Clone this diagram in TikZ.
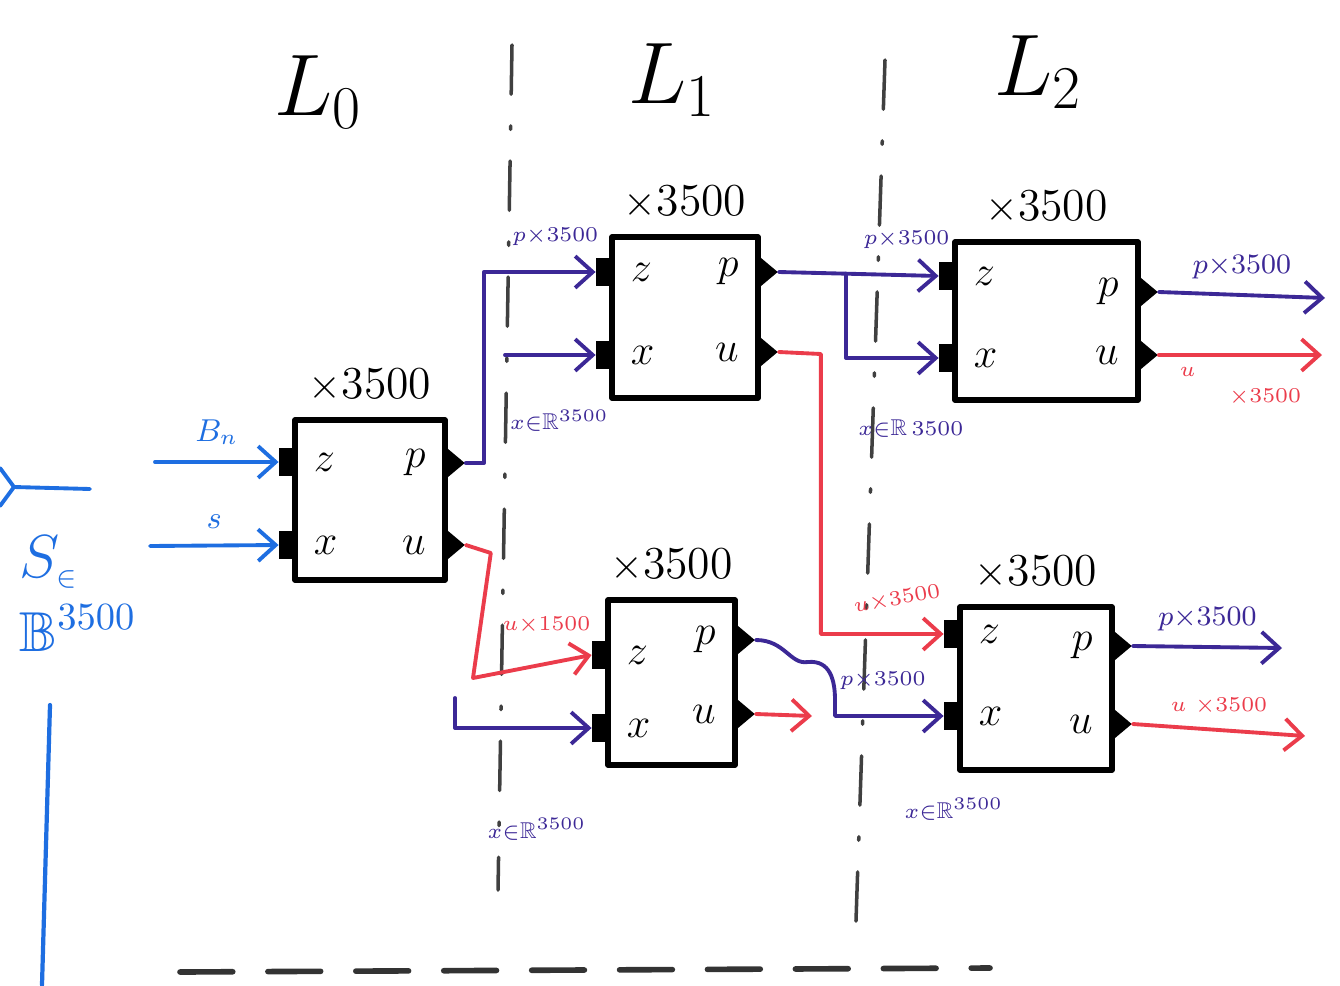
\documentclass[tikz,border=0pt]{standalone}
\usepackage{amsmath,amssymb}
\usetikzlibrary{arrows.meta,calc,positioning,fit,shapes.geometric}

\begin{document}
\begin{tikzpicture}[
  x={(0.01cm,0)}, y={(0,-0.01cm)},
  >={Straight Barb[length=5pt,width=9pt]},
  line cap=round, line join=round,
  wire/.style={line width=1.1pt,->},
  bwire/.style={wire,inblue},
  pwire/.style={wire,pvec},
  uwire/.style={wire,uvec},
  block/.style={draw,line width=1.6pt,inner sep=0pt,fill=white},
  inport/.style={fill=black,inner sep=0pt,minimum width=0.19cm,minimum height=0.28cm,anchor=east},
  outport/.style={isosceles triangle,isosceles triangle apex angle=80,fill=black,inner sep=0pt,minimum size=0.2cm,anchor=west},
  portlbl/.style={font=\fontsize{12}{14}\selectfont,inner sep=1pt},
  countlbl/.style={font=\fontsize{13}{15}\selectfont,inner sep=1pt},
  layerlbl/.style={font=\fontsize{25}{28}\selectfont},
  tinylbl/.style={font=\fontsize{6.5}{7.5}\selectfont,inner sep=1pt},
  outlbl/.style={font=\fontsize{8.5}{9.5}\selectfont,inner sep=1pt},
  sep/.style={black!75,line width=1pt,dash pattern=on 14pt off 9pt on 1pt off 9pt}
]
\definecolor{inblue}{RGB}{30,110,225}
\definecolor{pvec}{RGB}{60,40,150}
\definecolor{uvec}{RGB}{235,60,75}

\useasboundingbox (0,0) rectangle (1340,985);

% Layer names and the dashed separators between layers.
\node[layerlbl] (lay0) at (318,92) {$L_0$};
\node[layerlbl] (lay1) at (672,80) {$L_1$};
\node[layerlbl] (lay2) at (1038,72) {$L_2$};
\coordinate (sepAtop) at (512,45);
\coordinate (sepAbot) at (498,890);
\coordinate (sepBtop) at (885,60);
\coordinate (sepBbot) at (855,950);
\draw[sep] (sepAtop) -- (sepAbot);
\draw[sep] (sepBtop) -- (sepBbot);
\coordinate (baseL) at (180,972);
\coordinate (baseR) at (990,968);
\draw[black!80,line width=1.6pt,dash pattern=on 15pt off 10pt] (baseL) -- (baseR);

% Input set on the left.
\coordinate (fork) at (14,487);
\coordinate (forkend) at (90,489);
\draw[inblue,line width=1.1pt] (0,468) -- (fork) -- (0,506);
\draw[inblue,line width=1.1pt] (fork) -- (forkend);
\node[inblue,font=\fontsize{16}{21}\selectfont,align=left] (setS) at (78,594)
  {$S_{\scriptscriptstyle\in}$\\$\mathbb{B}^{3500}$};
\coordinate (bartop) at (50,705);
\coordinate (barbot) at (42,985);
\draw[inblue,line width=1.2pt] (bartop) -- (barbot);

% Blocks: name / left / right / top / bottom / z, x, p, u heights.
\foreach \n/\xl/\xr/\yt/\yb/\zy/\xy/\py/\uy in {
    A/295/445/420/580/462/545/463/545,
    B/612/758/237/398/272/355/272/352,
    C/608/735/600/765/655/728/640/714,
    D/955/1138/242/400/276/358/292/355,
    E/960/1112/607/770/634/716/646/724}{
  \node[block,fit={(\xl,\yt) (\xr,\yb)}] (\n) {};
  \node[inport] (\n-z) at (\xl+4,\zy) {};
  \node[inport] (\n-x) at (\xl+4,\xy) {};
  \node[outport] (\n-p) at (\xr-1,\py) {};
  \node[outport] (\n-u) at (\xr-1,\uy) {};
  \node[portlbl,right=3pt of \n-z] (\n-zl) {$z$};
  \node[portlbl,right=3pt of \n-x] (\n-xl) {$x$};
  \node[portlbl,left=4pt of \n-p] (\n-pl) {$p$};
  \node[portlbl,left=4pt of \n-u] (\n-ul) {$u$};
  \node[countlbl,above=3pt of \n] (\n-n) {$\times$3500};
}

% Layer 0 inputs.
\coordinate (bnin) at (155,462);
\coordinate (sin) at (150,546);
\draw[bwire] (bnin) -- (A-z.west)
  node[midway,above=1pt,font=\fontsize{9}{10}\selectfont] {$B_n$};
\draw[bwire] (sin) -- (A-x.west)
  node[midway,above=1pt,font=\fontsize{9}{10}\selectfont] {$s$};

% Layer 0 to layer 1.
\draw[pwire] (A-p.east) -- ++(18,0) |- (B-z.west)
  node[pos=0.82,above=6pt,tinylbl] {$p{\times}3500$};
\coordinate (bxin) at (505,355);
\draw[pwire] (bxin) -- (B-x.west)
  node[pos=0.6,below=14pt,tinylbl] {$x{\in}\mathbb{R}^{3500}$};
\draw[uwire] (A-u.east) -- ++(25,8) -- (473,678) -- (C-z.west)
  node[pos=0.62,above=7pt,tinylbl] {$u{\times}1500$};
\coordinate (cxin) at (455,698);
\draw[pwire] (cxin) |- (C-x.west)
  node[pos=0.8,below=24pt,tinylbl] {$x{\in}\mathbb{R}^{3500}$};

% Layer 1 to layer 2.
\draw[pwire] (B-p.east) -- (D-z.west)
  node[pos=0.8,above=6pt,tinylbl] {$p{\times}3500$};
\coordinate (bsplit) at ($(B-p.east)!0.42!(D-z.west)$);
\draw[pwire] (bsplit) |- (D-x.west)
  node[pos=0.85,below=16pt,tinylbl] {$x{\in}\mathbb{R}\,3500$};
\draw[uwire] (B-u.east) -- ++(42,2) |- (E-z.west)
  node[pos=0.82,above=6pt,tinylbl,rotate=10] {$u{\times}3500$};
\draw[pwire] (C-p.east) .. controls (785,640) and (790,665) .. (808,662)
  .. controls (830,660) and (835,680) .. (835,700) |- (E-x.west)
  node[pos=0.72,above=6pt,tinylbl] {$p{\times}3500$};
\coordinate (cuout) at (812,716);
\draw[uwire] (C-u.east) -- (cuout);
\node[pvec,tinylbl,below=18pt of E-x] (exlbl) {$x{\in}\mathbb{R}^{3500}$};

% Layer 2 outputs.
\coordinate (dpout) at (1325,298);
\coordinate (duout) at (1322,355);
\coordinate (epout) at (1282,648);
\coordinate (euout) at (1305,736);
\draw[pwire] (D-p.east) -- (dpout)
  node[midway,above=3pt,outlbl] {$p{\times}3500$};
\draw[uwire] (D-u.east) -- (duout)
  node[midway,below=2pt,tinylbl,align=left] {$u$\\\hspace{14pt}${\times}3500$};
\draw[pwire] (E-p.east) -- (epout)
  node[midway,above=3pt,outlbl] {$p{\times}3500$};
\draw[uwire] (E-u.east) -- (euout)
  node[midway,above=3pt,tinylbl] {$u\ {\times}3500$};
\end{tikzpicture}
\end{document}
